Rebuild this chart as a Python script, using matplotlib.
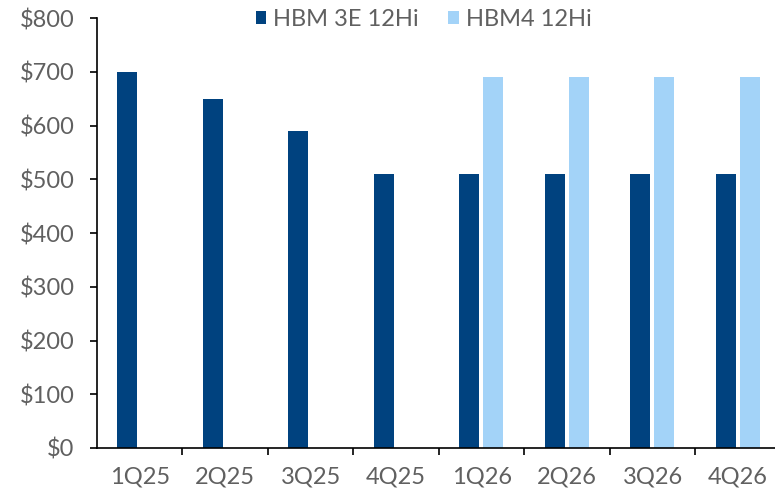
import matplotlib
matplotlib.use("Agg")
import matplotlib.pyplot as plt
import numpy as np

categories = ["1Q25", "2Q25", "3Q25", "4Q25", "1Q26", "2Q26", "3Q26", "4Q26"]
hbm3e_12hi = [700, 650, 590, 510, 510, 510, 510, 510]
hbm4_12hi = [np.nan, np.nan, np.nan, np.nan, 690, 690, 690, 690]
yticks = [0, 100, 200, 300, 400, 500, 600, 700, 800]

dark = "#00427F"
light = "#A3D3F8"
gray = "#606060"

plt.rcParams['font.family'] = ['Lato', 'DejaVu Sans']

fig = plt.figure(figsize=(7.75, 4.88), dpi=100)
ax = fig.add_axes([0.125, 0.082, 0.875, 0.881])

x = np.arange(len(categories))
w = 0.23
ax.bar(x - 0.145, hbm3e_12hi, width=w, color=dark, label="HBM 3E 12Hi", zorder=2)
ax.bar(x + 0.135, hbm4_12hi, width=w, color=light, label="HBM4 12Hi", zorder=2)

ax.set_xlim(-0.5, 7.43)
ax.set_ylim(0, 800)
ax.set_yticks(yticks)
ax.set_yticklabels([f"${v}" for v in yticks])
ax.set_xticks(x)
ax.set_xticklabels(categories)
ax.set_xticks(np.arange(0.5, len(categories) - 0.5, 1), minor=True)

for s in ["top", "right"]:
    ax.spines[s].set_visible(False)
for s in ["left", "bottom"]:
    ax.spines[s].set_color("black")
    ax.spines[s].set_linewidth(1.2)

ax.tick_params(axis="y", direction="out", length=5, width=1.2, colors="black",
               labelcolor=gray, labelsize=17, pad=11)
ax.tick_params(axis="x", which="major", length=0, labelcolor=gray, labelsize=17, pad=13)
ax.tick_params(axis="x", which="minor", direction="out", length=5, width=1.2, colors="black")

leg = ax.legend(loc="upper center", bbox_to_anchor=(0.482, 1.07), ncol=2, frameon=False,
                fontsize=17, handlelength=0.45, handleheight=0.45, handletextpad=0.3,
                columnspacing=1.25, labelcolor=gray)

fig.savefig("out.png", dpi=100)
